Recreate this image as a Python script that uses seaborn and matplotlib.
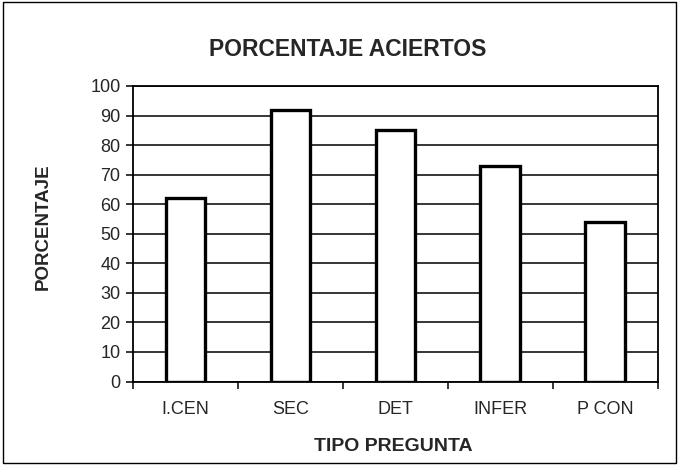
import numpy as np
import pandas as pd
import matplotlib
matplotlib.use('Agg')
import matplotlib.pyplot as plt
import seaborn as sns

# datos
tipos = ['I.CEN', 'SEC', 'DET', 'INFER', 'P CON']
aciertos = [62, 92, 85, 73, 54]
yticks = list(range(0, 101, 10))

df = pd.DataFrame({'tipo': tipos, 'pct': aciertos})

sns.set_style('white')
plt.rcParams['font.family'] = ['Liberation Sans', 'DejaVu Sans']

fig = plt.figure(figsize=(6.79, 4.65), dpi=100)
ax = fig.add_axes([133 / 679, 1 - 381.5 / 465, 524.5 / 679, 295.5 / 465])

sns.barplot(data=df, x='tipo', y='pct', color='white', edgecolor='black',
            linewidth=2.4, width=0.375, ax=ax, zorder=3)

ax.set_ylim(0, 100)
ax.set_xlim(-0.5, len(tipos) - 0.5)
ax.set_yticks(yticks)
ax.yaxis.grid(True, color='black', linewidth=1.1, zorder=0)
ax.set_axisbelow(True)
for s in ax.spines.values():
    s.set_visible(True)
    s.set_color('black')
    s.set_linewidth(1.3)

# ticks del eje x en los limites de categoria
ax.set_xticks(np.arange(len(tipos) + 1) - 0.5, minor=True)
ax.tick_params(axis='x', which='minor', length=5, width=1.1, direction='out', color='black', bottom=True)
ax.tick_params(axis='x', which='major', length=0, pad=14, labelsize=13)
ax.tick_params(axis='y', length=5, width=1.1, direction='out', color='black', left=True, labelsize=13, pad=4)

ax.set_xlabel('')
ax.set_ylabel('')
fig.text(393 / 679, 1 - 446 / 465, 'TIPO PREGUNTA', ha='center', va='center',
         fontsize=14, fontweight='bold')
fig.text(43 / 679, 1 - 227 / 465, 'PORCENTAJE', ha='center', va='center',
         rotation=90, fontsize=13.5, fontweight='bold')
fig.text(348 / 679, 1 - 49.5 / 465, 'PORCENTAJE ACIERTOS', ha='center', va='center',
         fontsize=16.5, fontweight='bold')

# marco exterior
fig.patches.append(plt.Rectangle((0.004, 0.004), 0.992, 0.992, transform=fig.transFigure,
                                 fill=False, edgecolor='black', linewidth=1.0))

fig.savefig('out.png', dpi=100, facecolor='white')
